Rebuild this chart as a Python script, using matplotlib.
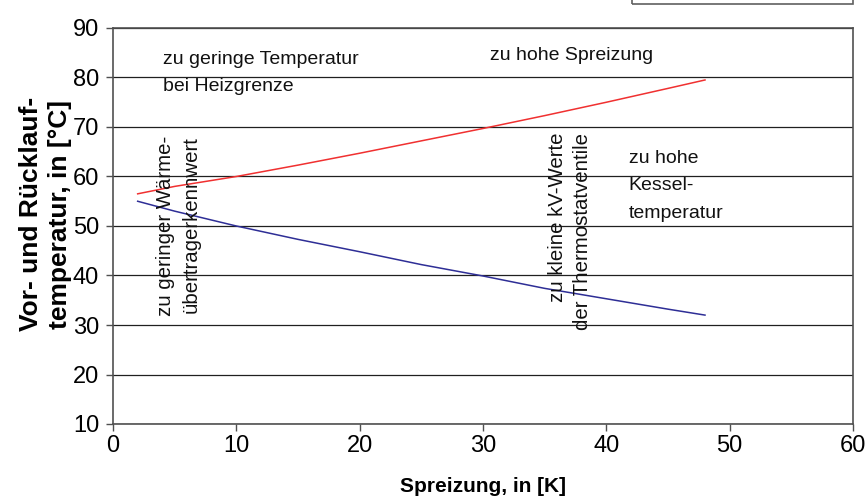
import matplotlib
matplotlib.use("Agg")
import matplotlib.pyplot as plt
from matplotlib.patches import Rectangle

plt.rcParams["font.family"] = ["Liberation Sans", "DejaVu Sans"]

# Spreizung [K] and the read-off flow / return temperatures [°C]
spreizung = [2, 5, 10, 15, 20, 25, 30, 35, 40, 45, 48]
vorlauf = [56.5, 58.0, 60.0, 62.3, 64.7, 67.2, 69.7, 72.3, 75.0, 77.8, 79.5]
ruecklauf = [55.0, 53.0, 50.0, 47.3, 44.8, 42.2, 39.9, 37.4, 35.3, 33.2, 32.0]

x_ticks = [0, 10, 20, 30, 40, 50, 60]
y_ticks = [10, 20, 30, 40, 50, 60, 70, 80, 90]

fig = plt.figure(figsize=(8.66, 5.0), dpi=100)
ax = fig.add_axes([113 / 866, 1 - 424 / 500, 740 / 866, 396 / 500])

ax.plot(spreizung, vorlauf, color="#f03030", lw=1.1)
ax.plot(spreizung, ruecklauf, color="#2e2e96", lw=1.1)

ax.set_xlim(0, 60)
ax.set_ylim(10, 90)
ax.set_xticks(x_ticks)
ax.set_yticks(y_ticks)
ax.yaxis.grid(True, color="#202020", lw=0.9)
ax.set_axisbelow(True)
for s in ax.spines.values():
    s.set_color("#505050")
    s.set_linewidth(1.2)
ax.tick_params(axis="both", labelsize=17, color="#505050", length=5, width=1,
               direction="out")
ax.tick_params(axis="x", pad=3)
ax.tick_params(axis="y", pad=5)

ax.set_xlabel("Spreizung, in [K]", fontsize=15, fontweight="bold", labelpad=14)
ax.set_ylabel("Vor- und Rücklauf-\ntemperatur, in [°C]", fontsize=19,
              fontweight="bold", linespacing=1.25)
ax.yaxis.set_label_coords(-0.056, 0.53)

txt = dict(fontsize=14, color="#111111")
ax.text(4.05, 85.3, "zu geringe Temperatur\nbei Heizgrenze", va="top",
        linespacing=1.75, **txt)
ax.text(30.6, 84.5, "zu hohe Spreizung", va="center", **txt)
ax.text(41.8, 65.4, "zu hohe\nKessel-\ntemperatur", va="top",
        linespacing=1.8, **txt)
vtxt = dict(fontsize=14.7, color="#111111")
ax.text(3.5, 31.8, "zu geringer Wärme-\nübertragerkennwert", rotation=90,
        ha="left", va="bottom", multialignment="right", linespacing=1.4, **vtxt)
ax.text(35.3, 29.0, "zu kleine kV-Werte\nder Thermostatventile", rotation=90,
        ha="left", va="bottom", multialignment="right", linespacing=1.4, **vtxt)

# cut-off legend frame at the top edge
fig.patches.append(Rectangle((632 / 866, 1 - 4 / 500), 221 / 866, 0.05,
                             transform=fig.transFigure, fill=False,
                             edgecolor="#606060", lw=1.2))

fig.savefig("out.png", dpi=100)
